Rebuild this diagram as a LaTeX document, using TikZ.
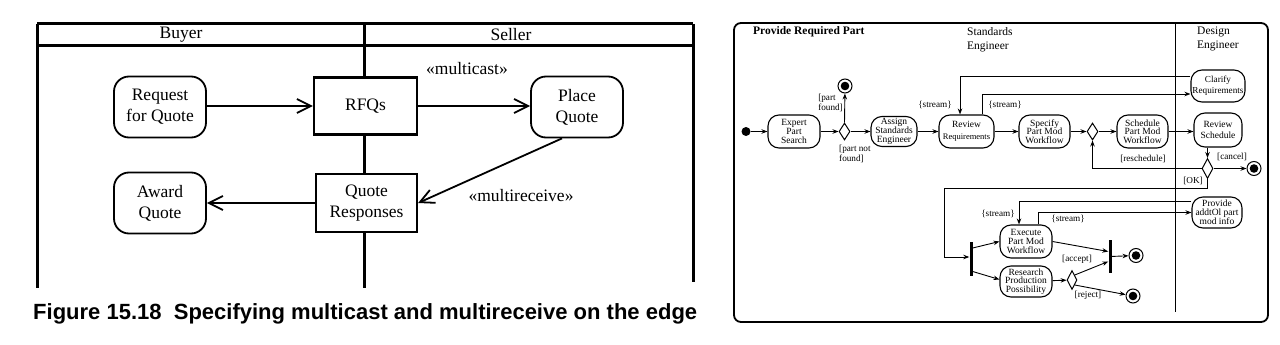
\documentclass[tikz,border=0pt]{standalone}
\usepackage{fontspec}
\setmainfont{Liberation Serif}
\newfontfamily\capfont{Liberation Sans}
\usetikzlibrary{arrows.meta,shapes.geometric}
\tikzset{
  lanes/.style={line width=3pt},
  lbox/.style={draw, line width=2.2pt, fill=white, inner sep=0pt, align=center,
    font=\fontsize{17.5}{21}\selectfont},
  lact/.style={draw, line width=1.8pt, fill=white, rounded corners=15pt, inner sep=0pt,
    align=center, minimum width=92pt, minimum height=61pt, font=\fontsize{17.5}{21}\selectfont},
  larr/.style={-{Straight Barb[length=14pt,width=14pt,line width=1.8pt]}, line width=1.8pt},
  llab/.style={font=\fontsize{17.5}{21}\selectfont},
  ract/.style={draw, line width=1.1pt, fill=white, rounded corners=11pt, inner sep=0pt,
    align=center, minimum width=52pt, minimum height=33pt, font=\fontsize{9.5}{8.7}\selectfont},
  rdia/.style={draw, shape=diamond, line width=1pt, fill=white, inner sep=0pt, minimum width=11pt, minimum height=17pt},
  rbar/.style={fill=black, inner sep=0pt, minimum width=3pt, minimum height=34pt},
  final/.style={circle, draw, line width=1pt, minimum size=14pt, inner sep=0pt,
    path picture={\fill (path picture bounding box.center) circle (4.3pt);}},
  rarr/.style={-{Stealth[length=6pt,width=4.5pt]}, line width=0.9pt},
  rlab/.style={font=\fontsize{9.2}{10}\selectfont, inner sep=0pt},
}
\begin{document}
\begin{tikzpicture}[x=1pt,y=-1pt]
\useasboundingbox (0,0) rectangle (1280,345);
% ---------------- left figure ----------------
\draw[lanes] (37,24) -- (693,24);
\draw[lanes] (37,46) -- (693,46);
\draw[lanes] (37,24) -- (37,288);
\draw[lanes] (693,24) -- (693,282);
\draw[lanes] (364,24) -- (364,288);
\node[llab] (buyer) at (181,35) {Buyer};
\node[llab] (seller) at (511,35) {Seller};

\node[lact] (req) at (160,107) {Request\\for Quote};
\node[lbox, minimum width=103pt, minimum height=57pt] (rfq) at (365.5,106) {RFQs};
\node[lact] (place) at (577,107) {Place\\Quote};
\node[lact] (award) at (160,203) {Award\\Quote};
\node[lbox, minimum width=101pt, minimum height=58pt] (qr) at (366.5,203) {Quote\\Responses};

\draw[larr] (req.east |- rfq) -- (rfq.west);
\draw[larr] (rfq.east) -- (place.west |- rfq);
\draw[larr] ([xshift=-15pt]place.south) -- (qr.east);
\draw[larr] (qr.west) -- (award.east);
\node[llab] (mc) at (467,69) {«multicast»};
\node[llab] (mr) at (521,196) {«multireceive»};

\node[anchor=west, inner sep=0pt] (cap) at (33,314)
  {\resizebox{664pt}{!}{\capfont\bfseries Figure 15.18\ \ Specifying multicast and multireceive on the edge}};

% ---------------- right figure ----------------
\draw[line width=1.8pt, rounded corners=7pt] (734,23) rectangle (1268,322);
\draw[line width=1pt] (1175,23) -- (1175,312);
\node[anchor=west, inner sep=0pt, font=\bfseries\fontsize{11.5}{13}\selectfont] (title) at (753,32) {Provide Required Part};
\node[anchor=west, inner sep=0pt, align=left, font=\fontsize{11.5}{13.5}\selectfont] (se) at (967,40) {Standards\\Engineer};
\node[anchor=west, inner sep=0pt, align=left, font=\fontsize{11.5}{13.5}\selectfont] (de) at (1197,39) {Design\\Engineer};

\node[circle, fill, inner sep=0pt, minimum size=9pt] (init) at (746,131.5) {};
\node[ract] (expert) at (794,131.5) {Expert\\Part\\Search};
\node[rdia] (d1) at (844.5,131.5) {};
\node[final] (fin1) at (845,86) {};
\node[ract, minimum width=46pt, minimum height=30pt] (assign) at (894,131.5) {Assign\\Standards\\Engineer};
\node[ract, minimum width=55pt] (review) at (966.5,131.5) {Review\\[3pt]{\fontsize{8.5}{9}\selectfont Requirements}};
\node[ract, minimum width=51pt] (specify) at (1044.5,131.5) {Specify\\Part Mod\\Workflow};
\node[rdia] (d2) at (1092.5,131.5) {};
\node[ract, minimum width=51pt] (schedule) at (1142.5,131.5) {Schedule\\Part Mod\\Workflow};
\node[ract, minimum width=48pt, minimum height=34pt, font=\fontsize{9.5}{11}\selectfont] (revsched) at (1218,130) {Review\\Schedule};
\node[ract, minimum width=54pt, minimum height=32pt, font=\fontsize{9.2}{11}\selectfont] (clarify) at (1218,86) {Clarify\\Requirements};
\node[rdia, minimum height=20pt] (d3) at (1207.5,168.5) {};
\node[final] (fin2) at (1254,168.5) {};

\node[rbar] (fork) at (971,259) {};
\node[ract] (execute) at (1026,241.5) {Execute\\Part Mod\\Workflow};
\node[ract, minimum height=31pt] (research) at (1026,281.5) {Research\\Production\\Possibility};
\node[rbar, minimum height=33pt] (join) at (1110,256.5) {};
\node[final] (fin3) at (1136,255.5) {};
\node[rdia, minimum width=10pt, minimum height=19pt] (d4) at (1072,280) {};
\node[final] (fin4) at (1133,296) {};
\node[ract, minimum width=50pt, minimum height=31pt] (provide) at (1217,212.5) {Provide\\addtOl part\\mod info};
\coordinate (okc) at (944,188);

\draw[rarr] (init) -- (expert);
\draw[rarr] (expert) -- (d1);
\draw[rarr] (d1.north) -- (fin1);
\draw[rarr] (d1) -- (assign);
\draw[rarr] (assign) -- (review);
\draw[rarr] ([yshift=10pt]clarify.west) -| ([xshift=-6.5pt]review.north);
\draw[rarr] ([xshift=15.5pt]review.north) |- ([yshift=-8pt]clarify.west);
\draw[rarr] (review) -- (specify);
\draw[rarr] (specify) -- (d2);
\draw[rarr] (d2) -- (schedule);
\draw[rarr] (schedule) -- (revsched.west |- schedule);
\draw[rarr] (revsched.south -| d3) -- (d3.north);
\draw[rarr] (d3.east) -- (fin2);
\draw[rarr] (d3.west) -| (d2.south);
\draw[rarr] (d3.south) |- (okc) |- ([yshift=2pt]fork.west);
\draw[rarr] ([yshift=11pt]fork.east) -- (execute.west);
\draw[rarr] ([yshift=-12.5pt]fork.east) -- ([yshift=2pt]research.west);
\draw[rarr] (execute.east) -- ([yshift=5pt]join.west);
\draw[rarr] (research) -- (d4);
\draw[rarr] (d4.north east) -- ([yshift=-5pt]join.west);
\draw[rarr] (join) -- (fin3);
\draw[rarr] (d4.south east) -- (fin4);
\draw[rarr] ([yshift=11.5pt]provide.west) -| ([xshift=-7pt]execute.north);
\draw[rarr] ([xshift=12pt]execute.north) |- (provide.west);

\node[rlab, align=left, anchor=east] (lpf) at (843,103) {[part\\found]};
\node[rlab, align=left, anchor=west] (lpnf) at (839,154) {[part not\\found]};
\node[rlab] (ls1) at (935,105) {\{stream\}};
\node[rlab] (ls2) at (1005,105) {\{stream\}};
\node[rlab] (lres) at (1143,159) {[reschedule]};
\node[rlab] (lcan) at (1232,157) {[cancel]};
\node[rlab] (lok) at (1193,181) {[OK]};
\node[rlab] (ls3) at (998,214) {\{stream\}};
\node[rlab] (ls4) at (1068,219) {\{stream\}};
\node[rlab] (lacc) at (1077,259) {[accept]};
\node[rlab] (lrej) at (1088,295) {[reject]};
\end{tikzpicture}
\end{document}
